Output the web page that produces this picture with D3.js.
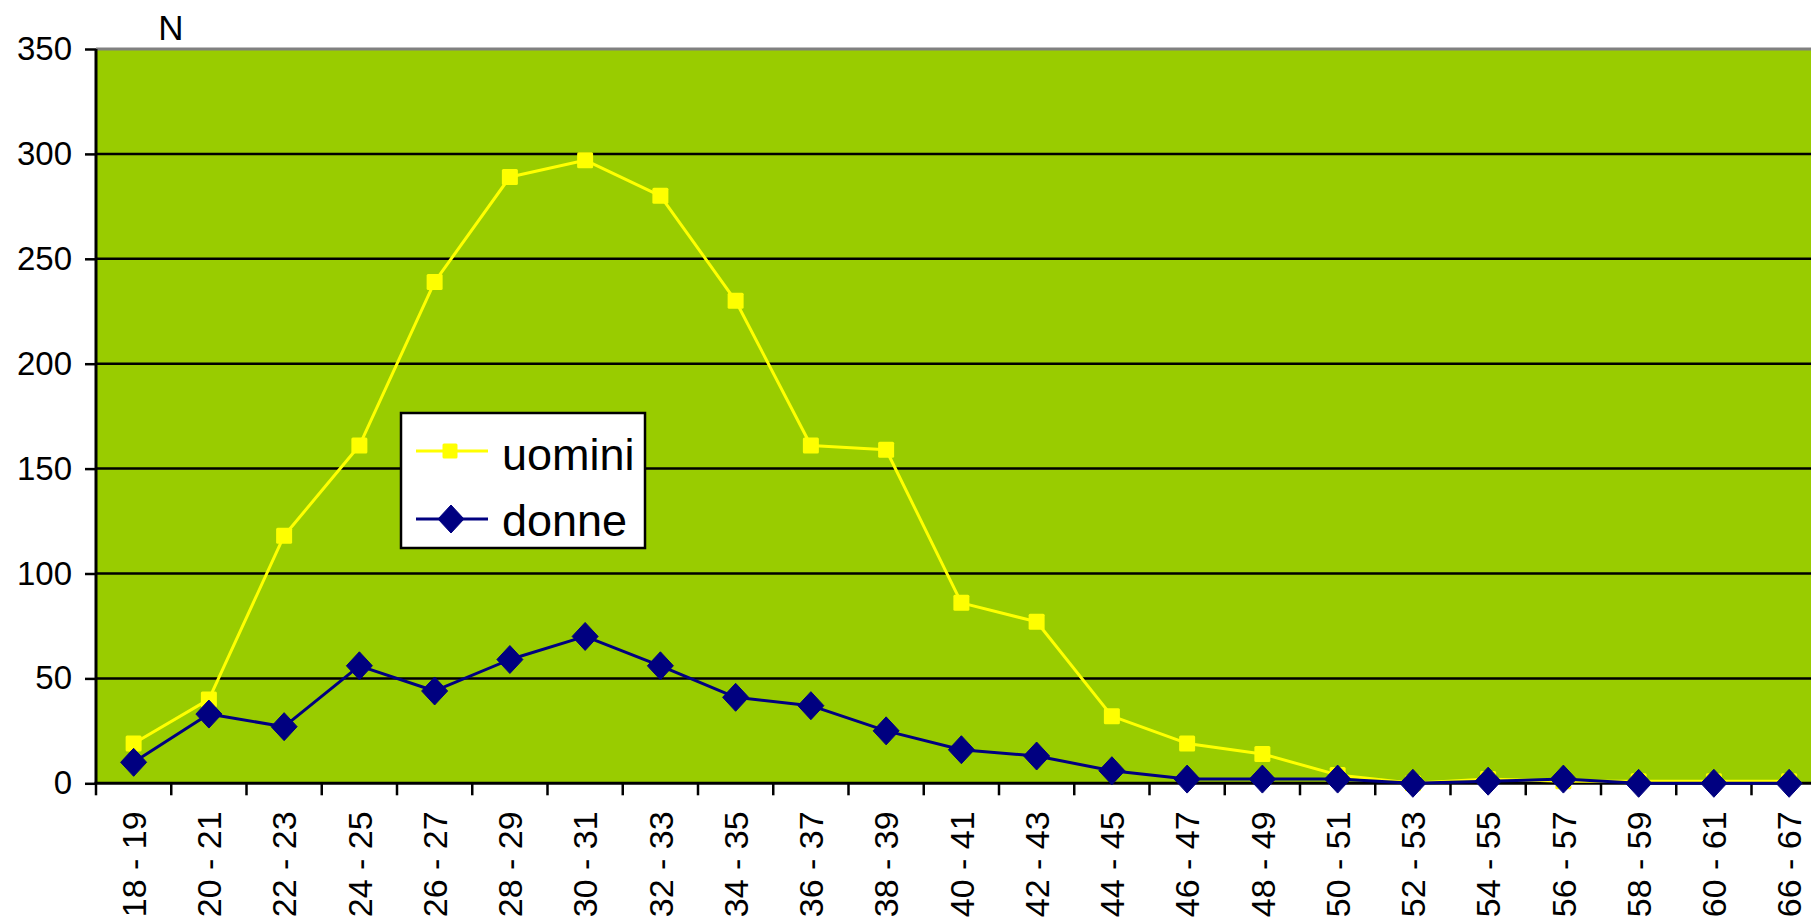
<!DOCTYPE html>
<html>
<head>
<meta charset="utf-8">
<script src="https://cdn.jsdelivr.net/npm/d3@7"></script>
<style>
  html, body { margin: 0; padding: 0; background: #ffffff; overflow: hidden; }
  svg { display: block; font-family: "Liberation Sans", Arial, sans-serif; }
</style>
</head>
<body>
<script>
'use strict';

// age classes on the x axis
const categories = ["18 - 19", "20 - 21", "22 - 23", "24 - 25", "26 - 27", "28 - 29",
  "30 - 31", "32 - 33", "34 - 35", "36 - 37", "38 - 39", "40 - 41", "42 - 43",
  "44 - 45", "46 - 47", "48 - 49", "50 - 51", "52 - 53", "54 - 55", "56 - 57",
  "58 - 59", "60 - 61", "66 - 67"];

// counts
const uomini = [19, 40, 118, 161, 239, 289, 297, 280, 230, 161, 159, 86, 77,
  32, 19, 14, 4, 0, 2, 1, 1, 1, 1];
const donne = [10, 33, 27, 56, 44, 59, 70, 56, 41, 37, 25, 16, 13,
  6, 2, 2, 2, 0, 1, 2, 0, 0, 0];

const yTicks = [0, 50, 100, 150, 200, 250, 300, 350];

(function() {

  const width = 1811;
  const height = 919;

  // plot area (the right end runs past the picture, like the original)
  const left = 96, top = 49, bottom = 783.3;
  const band = 75.25;

  let svg = d3.select('body')
    .append('svg')
    .attr('width', width)
    .attr('height', height);

  let x = d3.scaleBand()
    .domain(categories)
    .range([left, left + band * categories.length])
    .padding(0);

  let y = d3.scaleLinear()
    .domain([0, 350])
    .range([bottom, top]);

  let cx = (d, i) => x(categories[i]) + x.bandwidth() / 2;

  // green background
  svg.append('rect')
    .attr('x', left)
    .attr('y', top)
    .attr('width', x.range()[1] - left)
    .attr('height', bottom - top)
    .attr('fill', '#99cc00');

  // horizontal grid lines
  svg.append('g')
    .selectAll('line')
    .data(yTicks.filter((t) => t > 0 && t < 350))
    .enter()
    .append('line')
      .attr('x1', left)
      .attr('x2', x.range()[1])
      .attr('y1', (d) => y(d))
      .attr('y2', (d) => y(d))
      .attr('stroke', '#000')
      .attr('stroke-width', 2.5);

  // grey border on top of the plot area
  svg.append('line')
    .attr('x1', left)
    .attr('x2', x.range()[1])
    .attr('y1', y(350))
    .attr('y2', y(350))
    .attr('stroke', '#808080')
    .attr('stroke-width', 3);

  // y axis
  let yAxis = d3.axisLeft(y)
    .tickValues(yTicks)
    .tickSize(11)
    .tickPadding(13);
  let gy = svg.append('g')
    .attr('transform', `translate(${left}, 0)`)
    .call(yAxis);
  gy.select('.domain')
    .attr('stroke', '#000')
    .attr('stroke-width', 3)
    .attr('d', `M0,${top}V${bottom}`);
  gy.selectAll('.tick line').attr('stroke', '#000').attr('stroke-width', 2.5);
  gy.selectAll('.tick text')
    .attr('fill', '#000')
    .style('font-size', '33px')
    .style('font-family', '"Liberation Sans", Arial, sans-serif');

  // x axis: labels at the band centres, ticks between the bands
  let xAxis = d3.axisBottom(x).tickSize(0).tickPadding(0);
  let gx = svg.append('g')
    .attr('transform', `translate(0, ${bottom})`)
    .call(xAxis);
  gx.select('.domain').remove();
  gx.selectAll('.tick text')
    .attr('fill', '#000')
    .attr('text-anchor', 'end')
    .attr('transform', 'translate(0, 28) rotate(-90)')
    .attr('x', 0)
    .attr('y', 0)
    .attr('dy', '0.36em')
    .style('font-size', '34px')
    .style('font-family', '"Liberation Sans", Arial, sans-serif');

  let edges = categories.map((c) => x(c)).concat([x.range()[1]]);
  svg.append('g')
    .selectAll('line')
    .data(edges)
    .enter()
    .append('line')
      .attr('x1', (d) => d)
      .attr('x2', (d) => d)
      .attr('y1', bottom)
      .attr('y2', bottom + 12)
      .attr('stroke', '#000')
      .attr('stroke-width', 2.5);

  svg.append('line')
    .attr('x1', left - 1.5)
    .attr('x2', x.range()[1])
    .attr('y1', bottom)
    .attr('y2', bottom)
    .attr('stroke', '#000')
    .attr('stroke-width', 3);

  // axis title
  svg.append('text')
    .attr('x', 171)
    .attr('y', 40)
    .attr('text-anchor', 'middle')
    .style('font-size', '35px')
    .text('N');

  // series
  let line = d3.line()
    .x(cx)
    .y((d) => y(d));

  svg.append('path')
    .datum(uomini)
    .attr('fill', 'none')
    .attr('stroke', '#ffff00')
    .attr('stroke-width', 3)
    .attr('stroke-linejoin', 'round')
    .attr('d', line);

  svg.append('g')
    .selectAll('rect')
    .data(uomini)
    .enter()
    .append('rect')
      .attr('x', (d, i) => cx(d, i) - 8)
      .attr('y', (d) => y(d) - 8)
      .attr('width', 16)
      .attr('height', 16)
      .attr('rx', 1.5)
      .attr('fill', '#ffff00');

  svg.append('path')
    .datum(donne)
    .attr('fill', 'none')
    .attr('stroke', '#000080')
    .attr('stroke-width', 3)
    .attr('stroke-linejoin', 'round')
    .attr('d', line);

  let diamond = 'M0,-14L13,0L0,14L-13,0Z';
  svg.append('g')
    .selectAll('path')
    .data(donne)
    .enter()
    .append('path')
      .attr('transform', (d, i) => `translate(${cx(d, i)}, ${y(d)})`)
      .attr('d', diamond)
      .attr('stroke', '#000080')
      .attr('stroke-width', 1)
      .attr('stroke-linejoin', 'round')
      .attr('fill', '#000080');

  // legend
  let legend = svg.append('g');
  legend.append('rect')
    .attr('x', 401)
    .attr('y', 413)
    .attr('width', 244)
    .attr('height', 135)
    .attr('fill', '#fff')
    .attr('stroke', '#000')
    .attr('stroke-width', 2.5);

  let items = [
    { name: 'uomini', color: '#ffff00', cy: 451, base: 470 },
    { name: 'donne', color: '#000080', cy: 519, base: 536 }
  ];

  items.forEach((it, k) => {
    legend.append('line')
      .attr('x1', 416)
      .attr('x2', 488)
      .attr('y1', it.cy)
      .attr('y2', it.cy)
      .attr('stroke', it.color)
      .attr('stroke-width', 3);
    if (k === 0) {
      legend.append('rect')
        .attr('x', 450 - 7.5)
        .attr('y', it.cy - 7.5)
        .attr('width', 15)
        .attr('height', 15)
        .attr('rx', 1.5)
        .attr('fill', it.color);
    } else {
      legend.append('path')
        .attr('transform', `translate(451, ${it.cy})`)
        .attr('d', diamond)
        .attr('fill', it.color)
        .attr('stroke', it.color)
        .attr('stroke-linejoin', 'round');
    }
    legend.append('text')
      .attr('x', 502)
      .attr('y', it.base)
      .style('font-size', '45px')
      .text(it.name);
  });

})();
</script>
</body>
</html>
